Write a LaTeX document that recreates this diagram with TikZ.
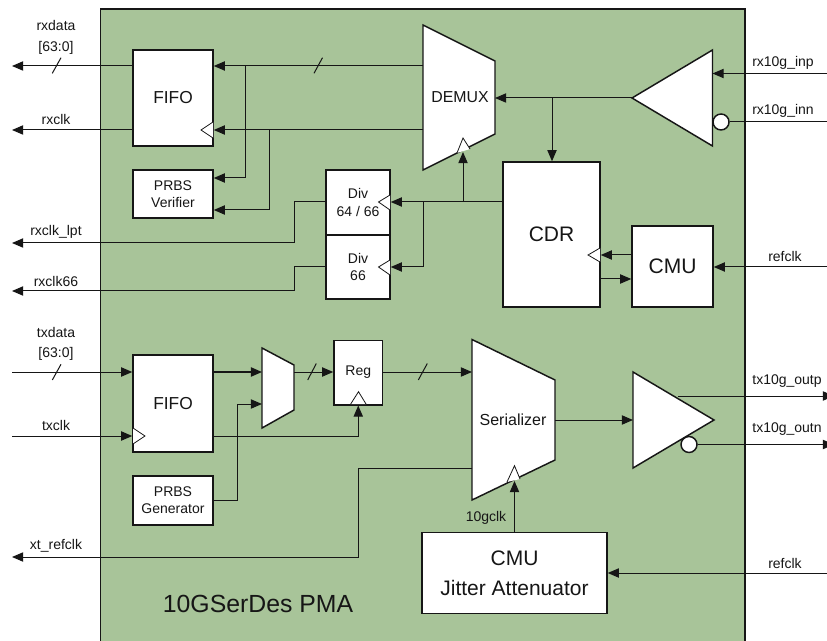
\documentclass[tikz,border=0pt]{standalone}
\usepackage{fontspec}
\setmainfont{Liberation Sans}
\usetikzlibrary{arrows.meta,calc}
\definecolor{panelgreen}{HTML}{A8C499}
\definecolor{ink}{HTML}{161616}
\tikzset{
  panel/.style={draw=ink,line width=1.2pt,fill=panelgreen},
  blockbox/.style={draw=ink,line width=1.1pt,fill=white,inner sep=0pt,align=center,text=ink},
  shapeline/.style={draw=ink,line width=1.1pt,fill=white,line join=miter},
  clockmark/.style={draw=ink,line width=0.6pt,fill=white,line join=miter},
  sig/.style={draw=ink,line width=0.75pt},
  arrowed/.style={sig,-{Triangle[length=8.4pt,width=7pt]}},
  heavysig/.style={arrowed,line width=1.1pt},
  tick/.style={draw=ink,line width=0.75pt},
  lab/.style={inner sep=0pt,text=ink,font=\fontsize{10.5pt}{12.75pt}\selectfont,align=center},
  bubble/.style={circle,draw=ink,line width=1.1pt,fill=white,minimum size=12pt,inner sep=0pt},
  small/.style={font=\fontsize{10.5pt}{12.9pt}\selectfont},
  fifotext/.style={font=\fontsize{13pt}{15pt}\selectfont},
  bigtext/.style={font=\fontsize{15.75pt}{22.5pt}\selectfont},
}
\begin{document}
\begin{tikzpicture}[x=0.75pt,y=-0.75pt]
\useasboundingbox (0,0) rectangle (827,641);
\clip (0,0) rectangle (827,641);
\fill[white] (0,0) rectangle (827,641);
\node[inner sep=0pt,minimum width={644.5*0.75pt},minimum height={660*0.75pt},panel] (pma) at (422.75,339) {};

% rectangular blocks
\node[blockbox,fifotext,minimum width=60pt,minimum height=72pt] (fifoR) at (173,98) {FIFO};
\node[blockbox,small,minimum width=60pt,minimum height=36pt] (prbsV) at (173,194) {PRBS\\Verifier};
\node[blockbox,small,minimum width=48pt,minimum height=48.75pt] (divA) at (358,202.5) {Div\\64 / 66};
\node[blockbox,small,minimum width=48pt,minimum height=48pt] (divB) at (358,267) {Div\\66};
\node[blockbox,bigtext,minimum width=72.75pt,minimum height=108.75pt] (cdr) at (551.5,234.5) {CDR};
\node[blockbox,bigtext,minimum width=60.75pt,minimum height=60.75pt] (cmu) at (672.5,266.5) {CMU};
\node[blockbox,fifotext,minimum width=60pt,minimum height=72.75pt] (fifoT) at (173,403.5) {FIFO};
\node[blockbox,small,minimum width=60pt,minimum height=36.75pt] (prbsG) at (173,500.5) {PRBS\\Generator};
\node[blockbox,small,minimum width=36.4pt,minimum height=48.4pt] (reg) at (358.25,372.5) {Reg};
\node[blockbox,bigtext,minimum width=138.75pt,minimum height=60.75pt] (cmuJ) at (514.5,573) {CMU\\Jitter Attenuator};

% trapezoids and triangles
\draw[shapeline] (423,25) -- (495,61) -- (495,134) -- (423,170) -- cycle;
\node[lab,font=\fontsize{11.9pt}{14pt}\selectfont] (demuxT) at (460,97.5) {DEMUX};
\draw[shapeline] (262,348) -- (294,365) -- (294,410) -- (262,428) -- cycle;
\draw[shapeline] (472,339.5) -- (555,380) -- (555,460) -- (472,500) -- cycle;
\node[lab,font=\fontsize{12pt}{14pt}\selectfont] (serT) at (513,419.5) {Serializer};
\draw[shapeline] (632,98) -- (712.5,50) -- (712.5,146) -- cycle;
\draw[shapeline] (633,372) -- (714,420) -- (633,468) -- cycle;
\node[bubble] (bubR) at (721,122) {};
\node[bubble] (bubT) at (689,444.5) {};

% named ends and junctions
\coordinate (oRxdata) at (12,66);
\coordinate (oRxclk) at (12,130);
\coordinate (oLpt) at (12,243);
\coordinate (o66) at (12,291);
\coordinate (iTxdata) at (12,372);
\coordinate (iTxclk) at (12,436);
\coordinate (oXt) at (12,557);
\coordinate (iInp) at (827,73.5);
\coordinate (iInn) at (827,122);
\coordinate (iRef) at (827,267);
\coordinate (iRefT) at (827,573);
\coordinate (oOutp) at (834,396);
\coordinate (oOutn) at (834,444.5);
\coordinate (demuxIn) at (495,98);
\coordinate (demuxL1) at (423,66);
\coordinate (demuxL2) at (423,130);
\coordinate (demuxClk) at (463,152);
\coordinate (bufOut) at (632,98);
\coordinate (bufIn) at (712.5,73.5);
\coordinate (j1) at (245,66);
\coordinate (j2) at (269.5,130);
\coordinate (j3) at (552,98);
\coordinate (j4) at (463,202);
\coordinate (j5) at (423,202);
\coordinate (k1) at (294,202);
\coordinate (k2) at (294,267);
\coordinate (muxIn1) at (262,372);
\coordinate (muxIn2) at (262,404);
\coordinate (muxOut) at (294,372);
\coordinate (serIn) at (472,372);
\coordinate (serL) at (472,468);
\coordinate (serR) at (555,420);
\coordinate (serClk) at (514.5,481);
\coordinate (drvIn) at (633,420);
\coordinate (drvO) at (678,396);
\coordinate (k3) at (237.5,500.5);
\coordinate (k4) at (358.5,468);

% receive path
\draw[arrowed] (fifoR.west |- oRxdata) -- (oRxdata);
\draw[arrowed] (fifoR.west |- oRxclk) -- (oRxclk);
\draw[arrowed] (demuxL1) -- (fifoR.east |- demuxL1);
\draw[arrowed] (demuxL2) -- (fifoR.east |- demuxL2);
\draw[arrowed] (j1) |- (prbsV.east |- 0,178);
\draw[arrowed] (j2) |- (prbsV.east |- 0,210);
\draw[arrowed] (cdr.west |- j4) -- (divA.east |- j4);
\draw[arrowed] (j4) -- (demuxClk);
\draw[arrowed] (j5) |- (divB.east);
\draw[arrowed] (bufOut) -- (demuxIn);
\draw[arrowed] (j3) -- (j3 |- cdr.north);
\draw[arrowed] (iInp) -- (bufIn);
\draw[sig] (iInn) -- (bubR.east);
\draw[arrowed] (iRef) -- (cmu.east |- iRef);
\draw[arrowed] (cmu.west |- 0,255) -- (cdr.east |- 0,255);
\draw[arrowed] (cdr.east |- 0,279) -- (cmu.west |- 0,279);
\draw[sig] (divA.west |- k1) -- (k1) -- (k1 |- oLpt);
\draw[arrowed] (k1 |- oLpt) -- (oLpt);
\draw[sig] (divB.west |- k2) -- (k2) -- (k2 |- o66);
\draw[arrowed] (k2 |- o66) -- (o66);

% transmit path
\draw[arrowed] (iTxdata) -- (fifoT.west |- iTxdata);
\draw[arrowed] (iTxclk) -- (fifoT.west |- iTxclk);
\draw[heavysig] (fifoT.east |- muxIn1) -- (muxIn1);
\draw[arrowed] (prbsG.east |- k3) -- (k3) |- (muxIn2);
\draw[arrowed] (muxOut) -- (reg.west |- muxOut);
\draw[arrowed] (reg.east |- serIn) -- (serIn);
\draw[arrowed] (fifoT.east |- iTxclk) -| (reg.south);
\draw[sig] (serL) -- (k4) -- (k4 |- oXt);
\draw[arrowed] (k4 |- oXt) -- (oXt);
\draw[arrowed] (serClk |- cmuJ.north) -- (serClk);
\draw[arrowed] (iRefT) -- (cmuJ.east |- iRefT);
\draw[arrowed] (serR) -- (drvIn);
\draw[arrowed] (drvO) -- (oOutp);
\draw[arrowed] (bubT.east) -- (oOutn);

% bus ticks
\draw[tick] (52.3,73.3) -- (61,57.7);
\draw[tick] (314,73.3) -- (322.5,57.7);
\draw[tick] (52.3,380) -- (61,364.3);
\draw[tick] (307.7,380) -- (316.3,363.5);
\draw[tick] (418.3,380) -- (427.3,363.5);

% clock marks
\draw[clockmark] (213,122) -- (201,130) -- (213,138);
\draw[clockmark] (390,195) -- (378.5,202) -- (390,210);
\draw[clockmark] (390,260) -- (378.5,267) -- (390,275);
\draw[clockmark] (600,248) -- (588,255) -- (600,262);
\draw[clockmark] (133,428) -- (145,436) -- (133,444);
\draw[clockmark] (350.7,404) -- (358.5,391.7) -- (366,404);
\draw[clockmark] (457,153) -- (463,138) -- (470,149);
\draw[clockmark] (507,482) -- (514.5,465.7) -- (520,479);

% labels
\node[lab] (lRxdata) at (56,26) {rxdata};
\node[lab] (lBusR) at (56,48) {[63:0]};
\node[lab] (lRxclk) at (56,119) {rxclk};
\node[lab] (lLpt) at (56,232) {rxclk\_lpt};
\node[lab] (l66) at (56,281) {rxclk66};
\node[lab] (lTxdata) at (56,332) {txdata};
\node[lab] (lBusT) at (56,354) {[63:0]};
\node[lab] (lTxclk) at (56,425) {txclk};
\node[lab] (lXt) at (56,546) {xt\_refclk};
\node[lab] (lInp) at (783,63) {rx10g\_inp};
\node[lab] (lInn) at (783,111) {rx10g\_inn};
\node[lab] (lRef) at (785,256) {refclk};
\node[lab] (lOutp) at (787,381) {tx10g\_outp};
\node[lab] (lOutn) at (787,429) {tx10g\_outn};
\node[lab] (lRefT) at (785,563) {refclk};
\node[lab] (lG) at (486,518) {10gclk};
\node[lab,font=\fontsize{18.6pt}{20pt}\selectfont] (title) at (258,604) {10GSerDes PMA};
\end{tikzpicture}
\end{document}
